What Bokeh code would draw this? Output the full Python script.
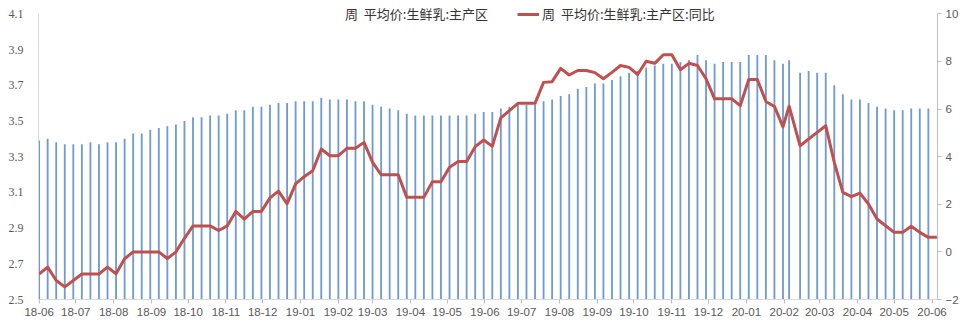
from datetime import date
from bokeh.plotting import figure
from bokeh.models import (Range1d, LinearAxis, FixedTicker, PrintfTickFormatter,
                          Legend, LegendItem, ColumnDataSource)
from bokeh.embed import file_html
from bokeh.resources import INLINE

# ---- data ----
dates = [
    "2018-06-06", "2018-06-13", "2018-06-20", "2018-06-27", "2018-07-04", "2018-07-11",
    "2018-07-18", "2018-07-25", "2018-08-01", "2018-08-08", "2018-08-15", "2018-08-22",
    "2018-08-29", "2018-09-05", "2018-09-12", "2018-09-19", "2018-09-26", "2018-10-03",
    "2018-10-10", "2018-10-17", "2018-10-24", "2018-10-31", "2018-11-07", "2018-11-14",
    "2018-11-21", "2018-11-28", "2018-12-05", "2018-12-12", "2018-12-19", "2018-12-26",
    "2019-01-02", "2019-01-09", "2019-01-16", "2019-01-23", "2019-01-30", "2019-02-06",
    "2019-02-13", "2019-02-20", "2019-02-27", "2019-03-06", "2019-03-13", "2019-03-20",
    "2019-03-27", "2019-04-03", "2019-04-10", "2019-04-17", "2019-04-24", "2019-05-01",
    "2019-05-08", "2019-05-15", "2019-05-22", "2019-05-29", "2019-06-05", "2019-06-12",
    "2019-06-19", "2019-06-26", "2019-07-03", "2019-07-10", "2019-07-17", "2019-07-24",
    "2019-07-31", "2019-08-07", "2019-08-14", "2019-08-21", "2019-08-28", "2019-09-04",
    "2019-09-11", "2019-09-18", "2019-09-25", "2019-10-02", "2019-10-09", "2019-10-16",
    "2019-10-23", "2019-10-30", "2019-11-06", "2019-11-13", "2019-11-20", "2019-11-27",
    "2019-12-04", "2019-12-11", "2019-12-18", "2019-12-25", "2020-01-01", "2020-01-08",
    "2020-01-15", "2020-01-22", "2020-01-29", "2020-02-05", "2020-02-10", "2020-02-19",
    "2020-02-26", "2020-03-04", "2020-03-11", "2020-03-18", "2020-03-25", "2020-04-01",
    "2020-04-08", "2020-04-15", "2020-04-22", "2020-04-29", "2020-05-06", "2020-05-13",
    "2020-05-20", "2020-05-27", "2020-06-03", "2020-06-10",
]

price = [
    3.39, 3.40, 3.38, 3.37, 3.37, 3.37, 3.38, 3.37, 3.38, 3.38,
    3.40, 3.43, 3.43, 3.45, 3.46, 3.47, 3.48, 3.50, 3.52, 3.52,
    3.53, 3.53, 3.54, 3.56, 3.56, 3.58, 3.58, 3.59, 3.60, 3.60,
    3.61, 3.61, 3.61, 3.63, 3.62, 3.62, 3.62, 3.61, 3.61, 3.59,
    3.58, 3.57, 3.56, 3.54, 3.53, 3.53, 3.53, 3.53, 3.53, 3.53,
    3.53, 3.54, 3.55, 3.55, 3.57, 3.58, 3.59, 3.59, 3.59, 3.61,
    3.62, 3.64, 3.65, 3.68, 3.69, 3.71, 3.71, 3.73, 3.75, 3.77,
    3.78, 3.80, 3.81, 3.82, 3.82, 3.83, 3.84, 3.87, 3.84, 3.82,
    3.83, 3.83, 3.83, 3.87, 3.87, 3.87, 3.84, 3.82, 3.84, 3.77,
    3.78, 3.77, 3.77, 3.70, 3.65, 3.62, 3.62, 3.60, 3.58, 3.57,
    3.56, 3.56, 3.57, 3.57, 3.57, None,
]

yoy = [
    -0.93, -0.64, -1.20, -1.47, -1.20, -0.93, -0.93, -0.93, -0.64, -0.92,
    -0.29, 0.00, 0.00, 0.00, 0.00, -0.28, 0.00, 0.57, 1.09, 1.09,
    1.09, 0.90, 1.09, 1.70, 1.38, 1.70, 1.70, 2.27, 2.55, 2.02,
    2.86, 3.16, 3.41, 4.32, 4.04, 4.04, 4.35, 4.35, 4.60, 3.76,
    3.24, 3.24, 3.24, 2.29, 2.29, 2.29, 2.95, 2.95, 3.55, 3.80,
    3.80, 4.42, 4.70, 4.43, 5.63, 5.93, 6.24, 6.24, 6.24, 7.12,
    7.15, 7.71, 7.43, 7.62, 7.62, 7.53, 7.27, 7.54, 7.83, 7.75,
    7.45, 8.01, 7.92, 8.28, 8.28, 7.65, 7.92, 7.83, 7.27, 6.43,
    6.43, 6.43, 6.14, 7.24, 7.24, 6.32, 6.11, 5.25, 6.12, 4.45,
    4.74, 5.02, 5.30, 3.76, 2.50, 2.32, 2.47, 2.01, 1.38, 1.10,
    0.82, 0.82, 1.08, 0.82, 0.61, 0.61,
]

month_labels = [
    "18-06", "18-07", "18-08", "18-09", "18-10", "18-11", "18-12",
    "19-01", "19-02", "19-03", "19-04", "19-05", "19-06", "19-07", "19-08",
    "19-09", "19-10", "19-11", "19-12", "20-01", "20-02", "20-03", "20-04",
    "20-05", "20-06",
]
left_ticks = [2.5, 2.7, 2.9, 3.1, 3.3, 3.5, 3.7, 3.9, 4.1]
right_ticks = [-2, 0, 2, 4, 6, 8, 10]

series_bar = "周  平均价:生鲜乳:主产区"
series_line = "周  平均价:生鲜乳:主产区:同比"

# ---- build ----
origin = date(2018, 6, 6)


def day_of(s):
    y, m, d = (int(t) for t in s.split("-"))
    return (date(y, m, d) - origin).days


xs = [day_of(d) for d in dates]
tick_pos = [(date(2000 + int(l[:2]), int(l[3:]), 6) - origin).days for l in month_labels]

src = ColumnDataSource(dict(
    x=xs,
    price=[float("nan") if v is None else v for v in price],
    yoy=yoy,
))

BLUE = "#4F81BD"
BAR_BLUE = "#6F9AD2"
RED = "#C0504D"
GREY_TXT = "#595959"

# frame a little taller than the axes so the legend fits above the 4.1 / 10 line
TOP_PAD = 9.3 / 285.4
left_lo, left_hi = left_ticks[0], left_ticks[-1]
right_lo, right_hi = right_ticks[0], right_ticks[-1]

p = figure(width=976, height=323, output_backend="svg", toolbar_location=None,
           x_range=Range1d(-0.5, xs[-1] + 0.5),
           y_range=Range1d(left_lo, left_hi + (left_hi - left_lo) * TOP_PAD),
           min_border_left=38, min_border_right=39, min_border_top=4,
           min_border_bottom=24, background_fill_color="white",
           border_fill_color="white")
p.outline_line_color = None
p.grid.visible = False
p.extra_y_ranges = {"yoy": Range1d(right_lo, right_hi + (right_hi - right_lo) * TOP_PAD)}

bars = p.vbar(x="x", top="price", bottom=left_lo, width=1.5, source=src,
              fill_color=BAR_BLUE, line_color=None)
line = p.line(x="x", y="yoy", source=src, y_range_name="yoy",
              line_color=RED, line_width=3, line_join="round")
proxy = p.line(x=[], y=[], line_color=BLUE, line_width=5)

# x axis
xa = p.xaxis[0]
xa.ticker = FixedTicker(ticks=tick_pos)
xa.major_label_overrides = {t: l for t, l in zip(tick_pos, month_labels)}
xa.axis_line_color = "#D9D9D9"
xa.major_tick_line_color = "#BFBFBF"
xa.major_tick_out = 4
xa.major_tick_in = 0
xa.minor_tick_line_color = None
xa.major_label_standoff = 4
xa.major_label_text_font = "Liberation Sans"
xa.major_label_text_font_size = "11.5px"
xa.major_label_text_color = GREY_TXT

# left axis
ya = p.yaxis[0]
ya.ticker = FixedTicker(ticks=left_ticks)
ya.bounds = (left_lo, left_hi)
ya.formatter = PrintfTickFormatter(format="%.1f")
ya.axis_line_color = "#D9D9D9"
ya.major_tick_line_color = None
ya.minor_tick_line_color = None
ya.major_label_standoff = 9
ya.major_label_text_font = "Liberation Serif"
ya.major_label_text_font_size = "12px"
ya.major_label_text_color = GREY_TXT

# right axis
ra = LinearAxis(y_range_name="yoy", ticker=FixedTicker(ticks=right_ticks),
                bounds=(right_lo, right_hi))
ra.axis_line_color = "#BFBFBF"
ra.major_tick_line_color = "#BFBFBF"
ra.major_tick_out = 4
ra.major_tick_in = 0
ra.minor_tick_line_color = None
ra.major_label_standoff = 4
ra.major_label_text_font = "Liberation Sans"
ra.major_label_text_font_size = "11.5px"
ra.major_label_text_color = GREY_TXT
p.add_layout(ra, "right")

legend = Legend(items=[LegendItem(label=series_bar, renderers=[proxy]),
                       LegendItem(label=series_line, renderers=[line])],
                orientation="horizontal", location=(282, 276),
                glyph_width=22, glyph_height=16, label_height=16,
                label_standoff=3, spacing=29, padding=0, margin=0,
                border_line_color=None, background_fill_alpha=0,
                label_text_font="Noto Sans CJK SC", label_text_font_size="13px",
                label_text_color="#333333")
p.add_layout(legend, "center")

open("out.html", "w").write(file_html(p, INLINE))
